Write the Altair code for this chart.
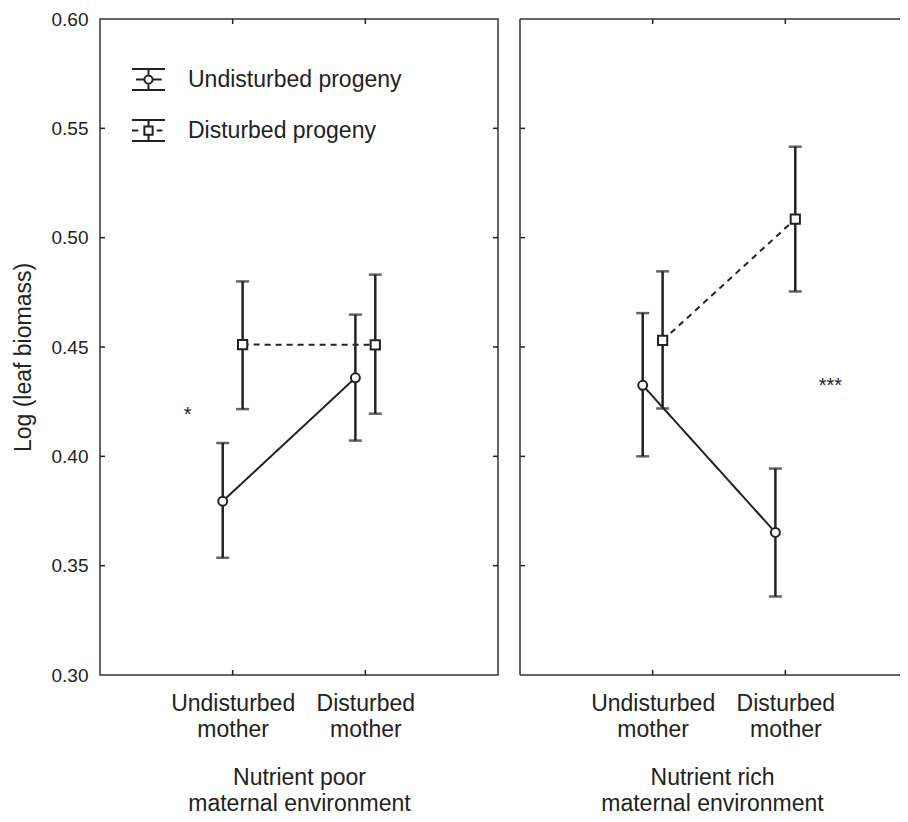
import json
import altair as alt
import pandas as pd

# ---------------- data ----------------
panels = ["Nutrient poor", "Nutrient rich"]
panel_titles = [["Nutrient poor", "maternal environment"],
                ["Nutrient rich", "maternal environment"]]
mothers = ["Undisturbed mother", "Disturbed mother"]
progenies = ["Undisturbed progeny", "Disturbed progeny"]

# values per mother: [Undisturbed mother, Disturbed mother]
poor_undist_mean = [0.3795, 0.4359]
poor_undist_lo = [0.3536, 0.4072]
poor_undist_hi = [0.4061, 0.4648]
poor_dist_mean = [0.4511, 0.4510]
poor_dist_lo = [0.4216, 0.4195]
poor_dist_hi = [0.4800, 0.4831]

rich_undist_mean = [0.4325, 0.3652]
rich_undist_lo = [0.4000, 0.3359]
rich_undist_hi = [0.4655, 0.3944]
rich_dist_mean = [0.4530, 0.5085]
rich_dist_lo = [0.4219, 0.4754]
rich_dist_hi = [0.4846, 0.5416]

y_ticks = [0.30, 0.35, 0.40, 0.45, 0.50, 0.55, 0.60]

ann_panel = ["Nutrient poor", "Nutrient rich"]
ann_text = ["*", "***"]
ann_x = [0.66, 2.34]
ann_y = [0.419, 0.432]

# ---------------- table ----------------
series = {
    ("Nutrient poor", progenies[0]): (poor_undist_mean, poor_undist_lo, poor_undist_hi),
    ("Nutrient poor", progenies[1]): (poor_dist_mean, poor_dist_lo, poor_dist_hi),
    ("Nutrient rich", progenies[0]): (rich_undist_mean, rich_undist_lo, rich_undist_hi),
    ("Nutrient rich", progenies[1]): (rich_dist_mean, rich_dist_lo, rich_dist_hi),
}
dodge = {progenies[0]: -0.075, progenies[1]: 0.075}
rows = []
for (pan, prog), (m, lo, hi) in series.items():
    for i, mo in enumerate(mothers):
        rows.append(dict(panel=pan, progeny=prog, mother=mo, x=i + 1 + dodge[prog],
                         mean=m[i], lo=lo[i], hi=hi[i]))
df = pd.DataFrame(rows)
ann_df = pd.DataFrame(dict(panel=ann_panel, text=ann_text, x=ann_x, y=ann_y))
ytick_df = pd.DataFrame(dict(v=y_ticks[1:-1]))
xtick_df = pd.DataFrame(dict(v=[1, 2]))

C = "#222222"
FRAME = "#333333"
FONT = "Liberation Sans"
H = 656
W_LEFT = 398
W_RIGHT = 384
UNIT = W_LEFT / 3.0

path_circle = ("M-1,-0.64H1M-1,0.64H1M0,-0.64V-0.25M0,0.25V0.64"
               "M-0.76,0H-0.25M0.25,0H0.8"
               "M0.25,0A0.25,0.25,0,1,1,-0.25,0A0.25,0.25,0,1,1,0.25,0")
path_square = ("M-1,-0.64H1M-1,0.64H1M0,-0.64V-0.25M0,0.25V0.64"
               "M-1,0H-0.62M0.5,0H0.84"
               "M-0.25,-0.25H0.25V0.25H-0.25Z")

label_expr = "datum.value == 1 ? %s : %s" % (json.dumps(mothers[0].split()),
                                             json.dumps(mothers[1].split()))


def make_panel(idx, width, show_y, legend):
    name = panels[idx]
    d = df[df.panel == name]
    xs = alt.Scale(domain=[0, width / UNIT], nice=False, zero=False)
    ys = alt.Scale(domain=[0.30, 0.60], nice=False, zero=False)
    xaxis = alt.Axis(values=[1, 2], labelExpr=label_expr, ticks=False, domain=False, grid=False,
                     labelFont=FONT, labelFontSize=23, labelLineHeight=26, labelColor=C,
                     labelPadding=17, labelFlush=False, labelOverlap=False,
                     title=panel_titles[idx], titleFont=FONT, titleFontSize=23,
                     titleFontWeight="normal", titleLineHeight=26, titleColor=C, titlePadding=25)
    if show_y:
        yaxis = alt.Axis(values=y_ticks, format=".2f", ticks=False, domain=False, grid=False,
                         labelFont=FONT, labelFontSize=19, labelColor=C, labelPadding=12,
                         title="Log (leaf biomass)", titleFont=FONT, titleFontSize=23,
                         titleFontWeight="normal", titleColor=C, titlePadding=16,
                         titleY=H / 2 + 10)
    else:
        yaxis = None

    def X(f):
        return alt.X(f, scale=xs, axis=xaxis)

    def Y(f):
        return alt.Y(f, scale=ys, axis=yaxis)

    base = alt.Chart(d)
    lines = base.mark_line(color=C, strokeWidth=2).encode(
        x=X("x:Q"), y=Y("mean:Q"), detail="progeny:N",
        strokeDash=alt.StrokeDash("progeny:N", scale=alt.Scale(domain=progenies, range=[[1, 0], [6, 5]]),
                                  legend=None))
    bars = base.mark_rule(color=C, strokeWidth=2.5).encode(x=X("x:Q"), y=Y("lo:Q"), y2="hi:Q")
    cap_lo = base.mark_tick(color=C, thickness=2.5, size=13, orient="horizontal").encode(x=X("x:Q"), y=Y("lo:Q"))
    cap_hi = base.mark_tick(color=C, thickness=2.5, size=13, orient="horizontal").encode(x=X("x:Q"), y=Y("hi:Q"))
    circles = base.transform_filter(alt.datum.progeny == progenies[0]).mark_point(
        shape="circle", size=80, filled=True, fill="white", stroke=C, strokeWidth=2, opacity=1
    ).encode(x=X("x:Q"), y=Y("mean:Q"))
    squares = base.transform_filter(alt.datum.progeny == progenies[1]).mark_point(
        shape="square", size=85, filled=True, fill="white", stroke=C, strokeWidth=2, opacity=1
    ).encode(x=X("x:Q"), y=Y("mean:Q"))
    ann = alt.Chart(ann_df[ann_df.panel == name]).mark_text(
        font=FONT, fontSize=20, color=C, baseline="middle", align="center"
    ).encode(x=X("x:Q"), y=Y("y:Q"), text="text:N")

    # inward ticks
    ytl = alt.Chart(ytick_df).mark_rule(color=C, strokeWidth=1.5).encode(
        y=Y("v:Q"), x=alt.value(0), x2=alt.value(5))
    xtt = alt.Chart(xtick_df).mark_rule(color=C, strokeWidth=1.5).encode(
        x=X("v:Q"), y=alt.value(0), y2=alt.value(5))
    xtb = alt.Chart(xtick_df).mark_rule(color=C, strokeWidth=1.5).encode(
        x=X("v:Q"), y=alt.value(H - 5), y2=alt.value(H))
    layers = [ytl, xtt, xtb]
    if show_y:
        ytr = alt.Chart(ytick_df).mark_rule(color=C, strokeWidth=1.5).encode(
            y=Y("v:Q"), x=alt.value(width - 5), x2=alt.value(width))
        layers.append(ytr)
    else:
        one = pd.DataFrame(dict(a=[0]))
        layers.append(alt.Chart(one).mark_rule(color=FRAME, strokeWidth=1.5).encode(
            x=alt.value(0), x2=alt.value(width), y=alt.value(0)))
        layers.append(alt.Chart(one).mark_rule(color=FRAME, strokeWidth=1.5).encode(
            x=alt.value(0), x2=alt.value(width), y=alt.value(H)))
        layers.append(alt.Chart(one).mark_rule(color=FRAME, strokeWidth=1.5).encode(
            x=alt.value(0), y=alt.value(0), y2=alt.value(H)))

    layers += [lines, bars, cap_lo, cap_hi, circles, squares, ann]

    if legend:
        leg_df = pd.DataFrame(dict(progeny=progenies, x=[-1, -1], y=[0.45, 0.45]))
        leg = alt.Chart(leg_df).mark_point(clip=True, color=C, filled=False, strokeWidth=2, opacity=1).encode(
            x=X("x:Q"), y=Y("y:Q"),
            shape=alt.Shape("progeny:N", scale=alt.Scale(domain=progenies, range=[path_circle, path_square]),
                            legend=alt.Legend(orient="none", legendX=31, legendY=43, title=None,
                                              symbolSize=1089, symbolStrokeWidth=2, symbolOpacity=1,
                                              symbolStrokeColor=C, symbolFillColor="white",
                                              labelFont=FONT, labelFontSize=23, labelColor=C,
                                              labelLimit=0, labelOffset=22, rowPadding=18, padding=0)))
        layers.append(leg)

    ch = alt.layer(*layers).properties(width=width, height=H)
    if show_y:
        ch = ch.properties(view=alt.ViewBackground(stroke=FRAME, strokeWidth=1.5))
    else:
        ch = ch.properties(view=alt.ViewBackground(stroke="transparent"))
    return ch


left = make_panel(0, W_LEFT, True, True)
right = make_panel(1, W_RIGHT, False, False)

chart = alt.hconcat(left, right, spacing=18).resolve_legend(shape="independent").properties(
    autosize=alt.AutoSizeParams(type="none"),
    padding={"left": 92, "top": 11, "right": 800, "bottom": 792}
).configure_view(stroke=FRAME, strokeWidth=1.5).configure(font=FONT, background="white")

chart.save("out.html", embed_options={"renderer": "svg", "actions": False})
